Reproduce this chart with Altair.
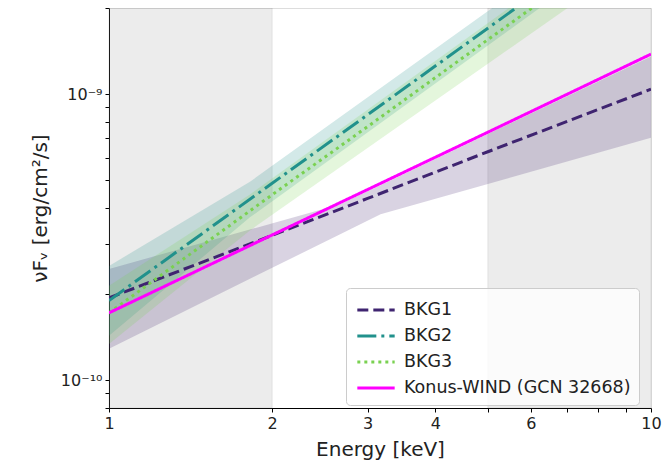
import altair as alt
import pandas as pd
import math

# ---- data ----
SERIES = ["BKG1", "BKG2", "BKG3", "Konus-WIND (GCN 32668)"]
LINE_COLORS = ["#3f2470", "#21918c", "#7ad151", "#ff00ff"]
LINE_DASHES = [[11, 5], [19, 5, 3, 5], [3, 4], [1, 0]]

E_LINE = [1, 2, 3, 5, 10]
BKG1 = [1.94e-10, 3.21e-10, 4.32e-10, 6.29e-10, 1.04e-9]
BKG2 = [1.90e-10, 4.88e-10, 8.47e-10, 1.70e-9, 4.37e-9]
BKG3 = [1.72e-10, 4.45e-10, 7.70e-10, 1.55e-9, 3.98e-9]
KONUS = [1.72e-10, 3.22e-10, 4.64e-10, 7.36e-10, 1.38e-9]

E_BAND1 = [1, 2.67, 3.17, 10]
BKG1_LO = [1.29e-10, 3.24e-10, 3.80e-10, 7.04e-10]
BKG1_HI = [2.45e-10, 4.12e-10, 4.80e-10, 1.355e-9]

E_BAND23 = [1, 1.82, 10]
BKG2_LO = [1.43e-10, 3.71e-10, 3.82e-9]
BKG2_HI = [2.51e-10, 4.94e-10, 5.0e-9]
BKG3_LO = [1.34e-10, 3.34e-10, 3.2e-9]
BKG3_HI = [2.14e-10, 4.46e-10, 4.56e-9]

SHADE_START = [1, 5]
SHADE_END = [2, 10]

X_DOMAIN = [1, 10]
Y_DOMAIN = [8e-11, 2e-9]
X_TICKS = [1, 2, 3, 4, 5, 6, 7, 8, 9, 10]
X_TICK_LABELS = ["1", "2", "3", "4", "", "6", "", "", "", "10"]
Y_TICKS = [8e-11, 9e-11, 1e-10, 2e-10, 3e-10, 4e-10, 5e-10, 6e-10, 7e-10,
           8e-10, 9e-10, 1e-9, 2e-9]
Y_TICK_LABELS = ["", "", "10⁻¹⁰", "", "", "", "", "", "", "", "", "10⁻⁹", ""]

# ---- tables ----
line_rows = []
for name, vals in zip(SERIES, [BKG1, BKG2, BKG3, KONUS]):
    for e, v in zip(E_LINE, vals):
        line_rows.append({"E": e, "flux": v, "series": name})
lines_df = pd.DataFrame(line_rows)

band_rows = []
for name, es, lo, hi in [("BKG1", E_BAND1, BKG1_LO, BKG1_HI),
                         ("BKG2", E_BAND23, BKG2_LO, BKG2_HI),
                         ("BKG3", E_BAND23, BKG3_LO, BKG3_HI)]:
    for e, a, b in zip(es, lo, hi):
        band_rows.append({"E": e, "lo": a, "hi": b, "series": name})
bands_df = pd.DataFrame(band_rows)

shade_df = pd.DataFrame({"x0": SHADE_START, "x1": SHADE_END,
                         "y0": [Y_DOMAIN[0]] * 2, "y1": [Y_DOMAIN[1]] * 2})


def label_expr(ticks, labels):
    parts = []
    for t, l in zip(ticks, labels):
        if l:
            parts.append(f"abs(log(datum.value)/LN10 - {math.log10(t):.6f}) < 0.001 ? '{l}'")
    return " : ".join(parts) + " : ''"


FONT = "DejaVu Sans"
xscale = alt.Scale(type="log", domain=X_DOMAIN, nice=False)
yscale = alt.Scale(type="log", domain=Y_DOMAIN, nice=False)

x_axis = alt.Axis(values=X_TICKS, labelExpr=label_expr(X_TICKS, X_TICK_LABELS),
                  title="Energy [keV]", grid=False, tickSize=4, labelFontSize=16,
                  titleFontSize=20, labelPadding=3, titlePadding=8,
                  domainColor="black", tickColor="black", labelColor="#222",
                  titleColor="#222", labelFont=FONT, titleFont=FONT,
                  titleFontWeight="normal", labelFlush=False)
y_axis = alt.Axis(values=Y_TICKS, labelExpr=label_expr(Y_TICKS, Y_TICK_LABELS),
                  title="νFᵥ [erg/cm²/s]", grid=False, tickSize=4, labelFontSize=16,
                  titleFontSize=20, labelPadding=3, titlePadding=10,
                  domainColor="black", tickColor="black", labelColor="#222",
                  titleColor="#222", labelFont=FONT, titleFont=FONT,
                  titleFontWeight="normal", labelFlush=False)

shade = alt.Chart(shade_df).mark_rect(
    fill="#808080", fillOpacity=0.15, stroke="#808080", strokeOpacity=0.15, strokeWidth=1
).encode(
    x=alt.X("x0:Q", scale=xscale, axis=x_axis),
    x2="x1:Q",
    y=alt.Y("y0:Q", scale=yscale, axis=y_axis),
    y2="y1:Q",
)

bands = alt.Chart(bands_df).mark_area(fillOpacity=0.2, clip=True).encode(
    x=alt.X("E:Q", scale=xscale),
    y=alt.Y("lo:Q", scale=yscale),
    y2="hi:Q",
    fill=alt.Fill("series:N", scale=alt.Scale(domain=SERIES[:3], range=LINE_COLORS[:3]),
                  legend=None),
    detail="series:N",
)

legend = alt.Legend(title=None, orient="none", legendX=237, legendY=280,
                    symbolType="M-1.5,0H1.5", symbolStrokeWidth=3, symbolSize=620,
                    symbolFillColor="transparent",
                    labelFontSize=17.5, labelFont=FONT, labelColor="#222",
                    labelLimit=400,
                    fillColor="rgba(255,255,255,0.8)", strokeColor="#cccccc",
                    cornerRadius=4, padding=8, rowPadding=3, labelOffset=14,
                    symbolOffset=8)

lines = alt.Chart(lines_df).mark_line(strokeWidth=3, clip=True).encode(
    x=alt.X("E:Q", scale=xscale),
    y=alt.Y("flux:Q", scale=yscale),
    color=alt.Color("series:N", scale=alt.Scale(domain=SERIES, range=LINE_COLORS),
                    sort=SERIES, legend=legend),
    strokeDash=alt.StrokeDash("series:N", scale=alt.Scale(domain=SERIES, range=LINE_DASHES),
                              sort=SERIES, legend=legend),
)

chart = alt.layer(shade, bands, lines).properties(
    width=542, height=400,
    autosize=alt.AutoSizeParams(type="none"),
    padding={"left": 101, "top": 0, "right": 13, "bottom": 52},
).configure_view(stroke="black", strokeWidth=1.2).configure(background="white")

chart.save("out.html", embed_options={"renderer": "svg", "actions": False})
